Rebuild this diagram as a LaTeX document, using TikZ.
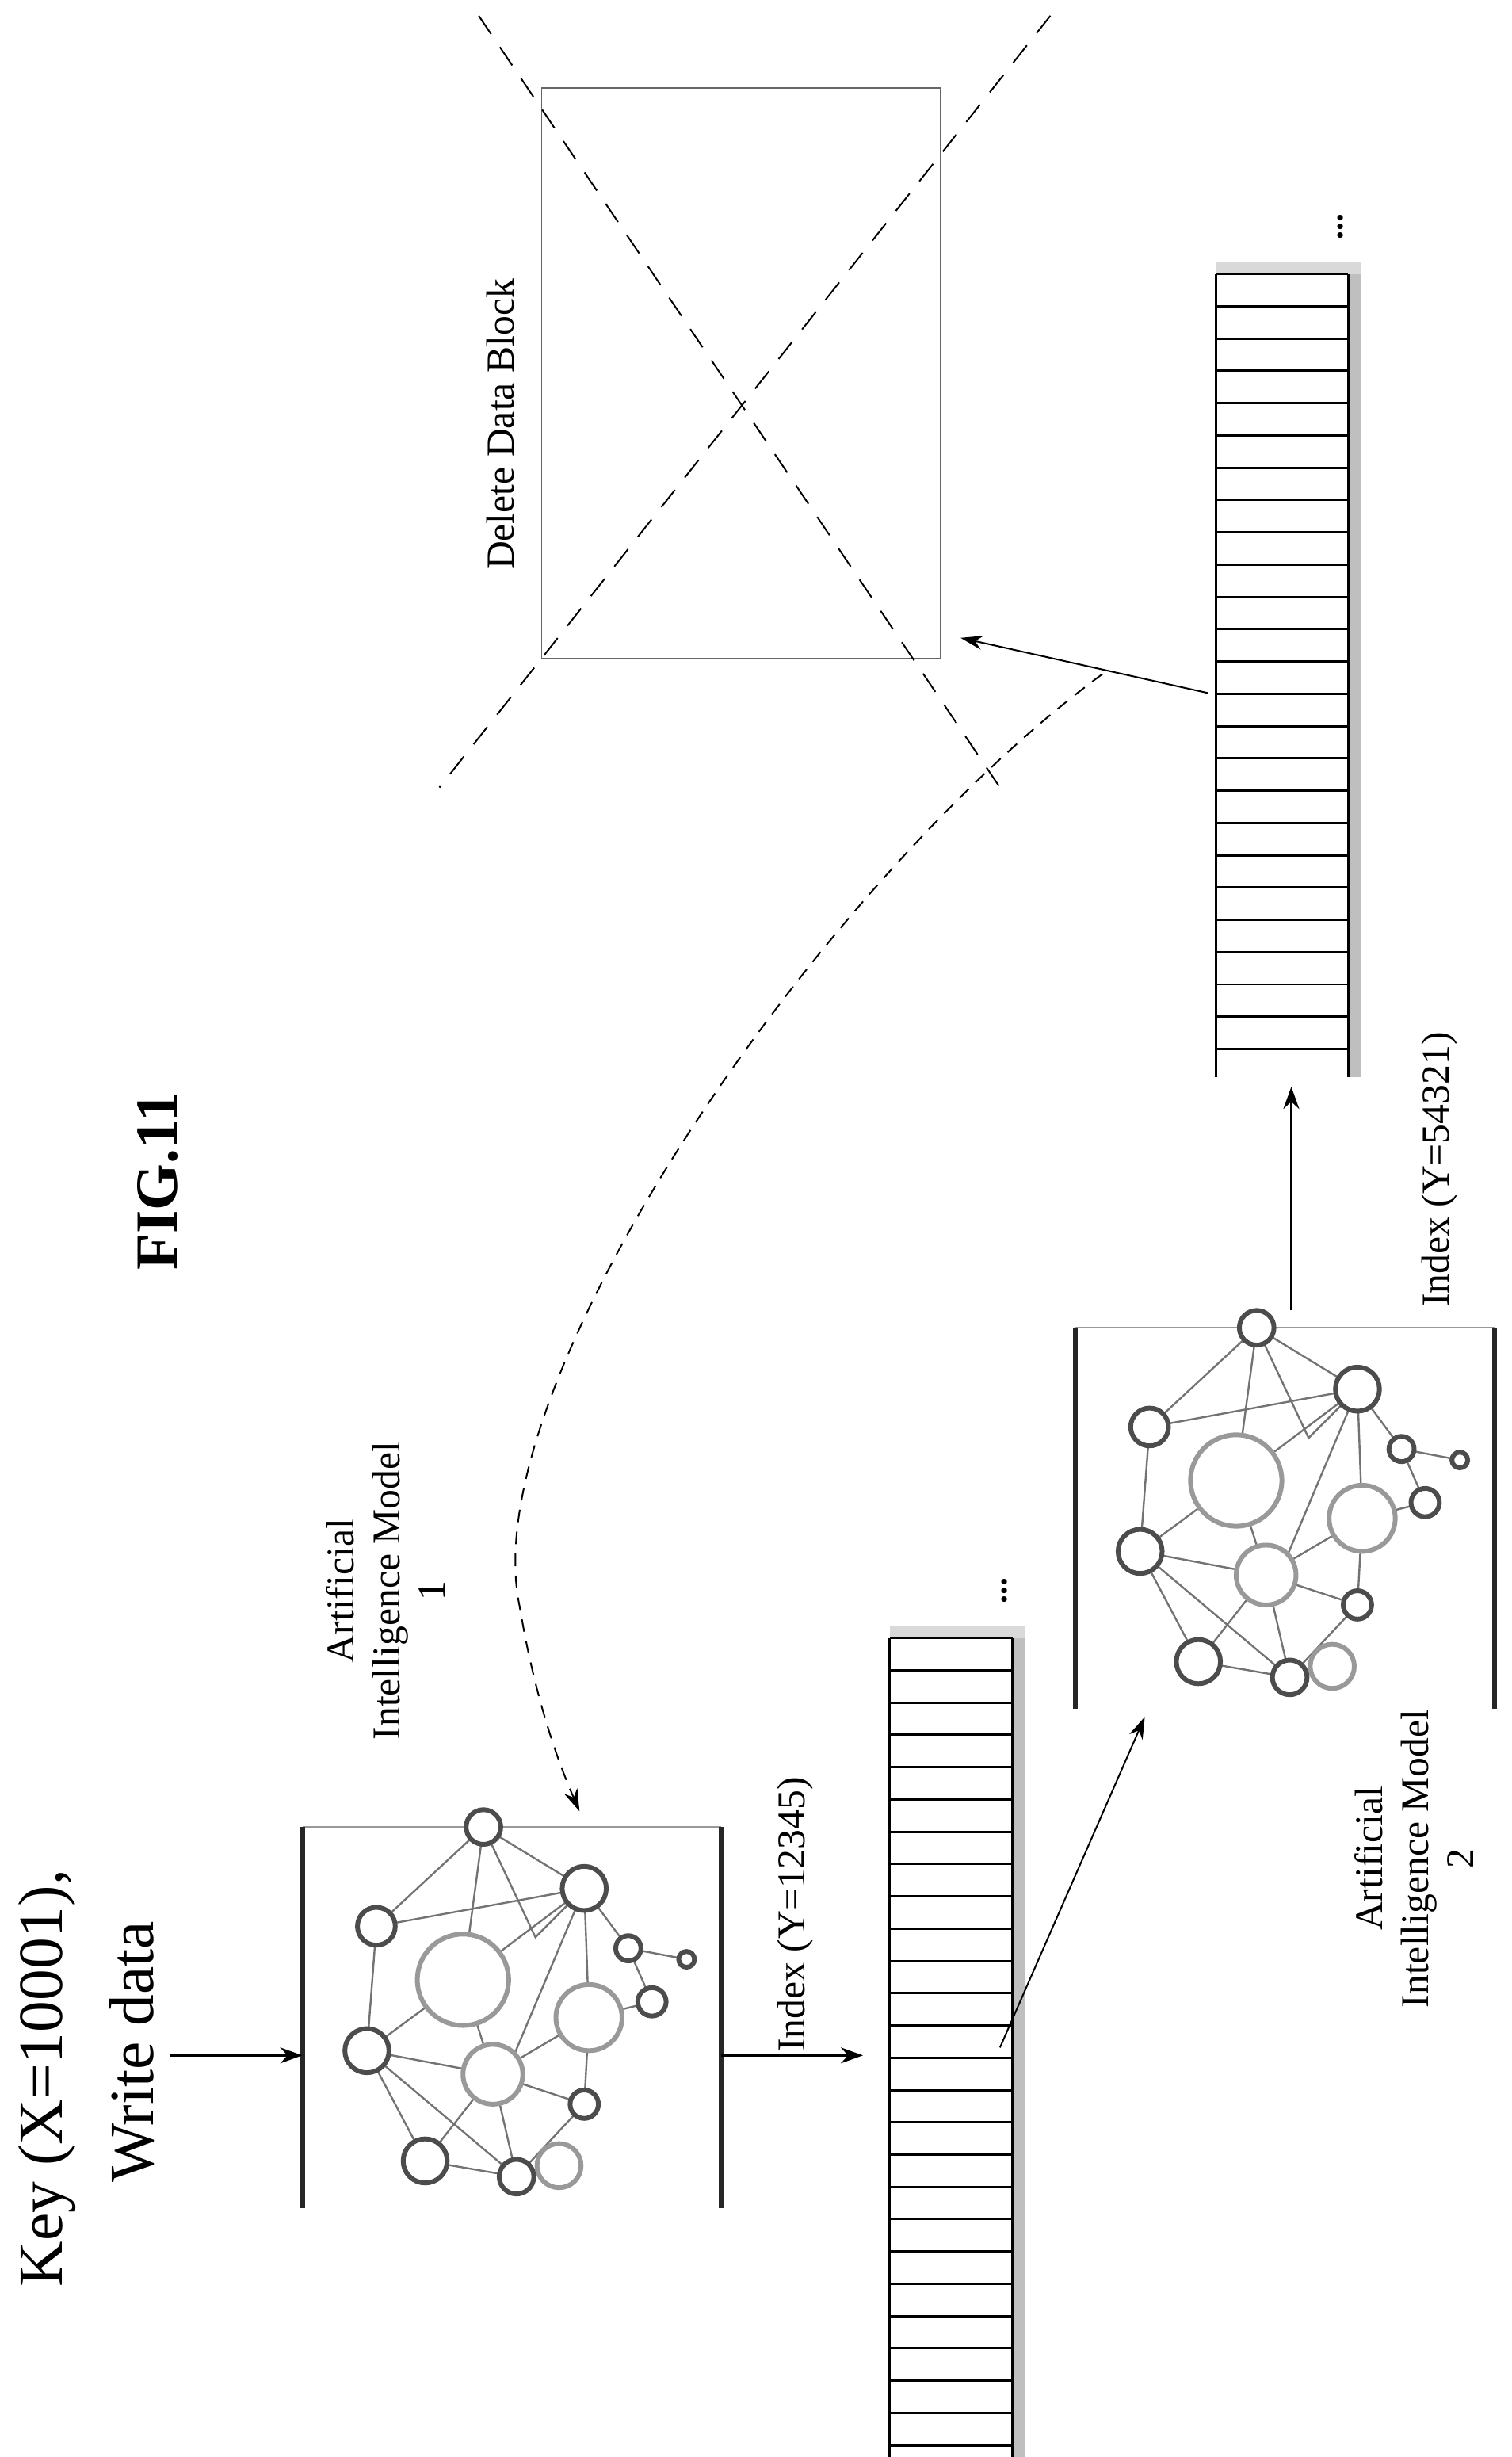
\documentclass[tikz,border=0pt]{standalone}
\usepackage{fontspec}
\setmainfont{Liberation Serif}
\usetikzlibrary{arrows.meta}
\begin{document}
\begin{tikzpicture}[x=1pt,y=-1pt,
  lbl/.style={rotate=90,font=\fontsize{25}{29}\selectfont,align=center,inner sep=0},
  arr/.style={-{Stealth[length=14pt,width=10pt]},line width=2pt},
  thin arr/.style={-{Stealth[length=14pt,width=9pt]},line width=1pt},
  side/.style={line width=3pt,black!85},
  dk/.style={draw=black!70,line width=3pt,fill=white},
  lt/.style={draw=black!40,line width=3pt,fill=white},
  ed/.style={draw=black!55,line width=1.2pt},
  cell/.style={draw=black,line width=1.5pt},
  xdash/.style={dash pattern=on 14pt off 10pt,line width=1pt}]
\useasboundingbox (0,0) rectangle (960,1560);
% texts
\node[rotate=90,anchor=west,font=\fontsize{40}{44}\selectfont,inner sep=0] (key) at (30,1452) {Key (X=10001),};
\node[rotate=90,anchor=west,font=\fontsize{40}{44}\selectfont,inner sep=0] (wd) at (84,1386) {Write data};
\node[rotate=90,font=\bfseries\fontsize{38}{42}\selectfont,inner sep=0] (fig) at (100,750) {FIG.11};
\node[lbl] (m1lbl) at (245,1010) {Artificial\\Intelligence Model\\1};
\node[lbl] (m2lbl) at (898,1180) {Artificial\\Intelligence Model\\2};
\node[lbl,anchor=west] (ix1) at (505,1303) {Index (Y=12345)};
\node[lbl,anchor=west] (ix2) at (914,830) {Index (Y=54321)};
\node[lbl,anchor=west] (del) at (318,362) {Delete Data Block};
% model boxes
\foreach \nm/\dx/\dy in {m1/0/0, m2/491/-317}{
\begin{scope}[shift={(\dx,\dy)}]
  \draw[black!40,line width=1pt] (192,1160) -- (458,1160);
  \draw[side] (192,1160) -- (192,1402);
  \draw[side] (458,1160) -- (458,1402);
  \coordinate (\nm W) at (192,1305);
  \coordinate (\nm E) at (458,1305);
  \draw[ed] (307,1160)--(371,1199)--(399,1237)--(414,1271);
  \draw[ed] (307,1160)--(239,1223)--(233,1302)--(270,1372)--(328,1382)--(371,1336)--(374,1281)--(371,1199);
  \draw[ed] (307,1160)--(294,1257) (239,1223)--(371,1199) (307,1160)--(340,1230)--(371,1199);
  \draw[ed] (233,1302)--(313,1317)--(371,1336) (233,1302)--(294,1257)--(371,1199);
  \draw[ed] (270,1372)--(313,1317)--(374,1281) (328,1382)--(313,1317) (233,1302)--(328,1382);
  \draw[ed] (294,1257)--(313,1317) (399,1237)--(436,1244) (374,1281)--(414,1271) (371,1199)--(320,1320);
  \draw[lt] (294,1257) circle (29);
  \draw[lt] (374,1281) circle (21);
  \draw[lt] (313,1317) circle (19);
  \draw[lt] (355,1375) circle (14);
  \foreach \p/\r in {{307,1160}/11,{371,1199}/14,{239,1223}/12,{399,1237}/8,{436,1244}/5,{414,1271}/9,{233,1302}/14,{371,1336}/9,{270,1372}/14,{328,1382}/11}
    \draw[dk] (\p) circle (\r);
\end{scope}}
% arrays
\foreach \nm/\xl/\xr/\yt/\yb/\n in {a1/565/643/1040/1560/25, a2/772/856/174/684/24}{
  \fill[black!25] (\xr,\yt-6) rectangle (\xr+8,\yb);
  \fill[black!15] (\xl,\yt-8) rectangle (\xr+8,\yt);
  \draw[cell] (\xl,\yt) -- (\xl,\yb) (\xr,\yt) -- (\xr,\yb);
  \foreach \i in {0,...,\n}{\draw[cell] (\xl,\yt+\i*20.5) -- (\xr,\yt+\i*20.5);}
  \node[rotate=90,font=\bfseries\fontsize{22}{22}\selectfont,inner sep=0] (\nm dots) at (\xr-5,\yt-30) {...};
}
\coordinate (a1W) at (548,1305);
\coordinate (a1p) at (635,1300);
\coordinate (m2in) at (727,1090);
\coordinate (m2out) at (820,832);
\coordinate (a2in) at (820,690);
\coordinate (a2p) at (767,440);
\coordinate (kw) at (108,1305);
% delete box
\draw[black!60,line width=0.8pt] (344,56) rectangle (597,418);
\coordinate (delE) at (610,405);
\coordinate (x1s) at (304,10); \coordinate (x1e) at (635,500);
\coordinate (x2s) at (667,10); \coordinate (x2e) at (279,500);
\draw[xdash] (x1s) -- (x1e);
\draw[xdash] (x2s) -- (x2e);
% connectors
\draw[arr] (kw) -- (m1W);
\draw[arr] (m1E) -- (a1W);
\draw[thin arr] (a1p) -- (m2in);
\draw[arr] (m2out) -- (a2in);
\draw[thin arr] (a2p) -- (delE);
\coordinate (cs) at (700,428);
\coordinate (ce) at (368,1150);
\draw[dash pattern=on 8pt off 6pt,line width=1pt,-{Stealth[length=14pt,width=9pt]}] (cs) .. controls (520,560) and (300,880) .. (330,1020) .. controls (340,1080) and (355,1120) .. (ce);
\end{tikzpicture}
\end{document}
